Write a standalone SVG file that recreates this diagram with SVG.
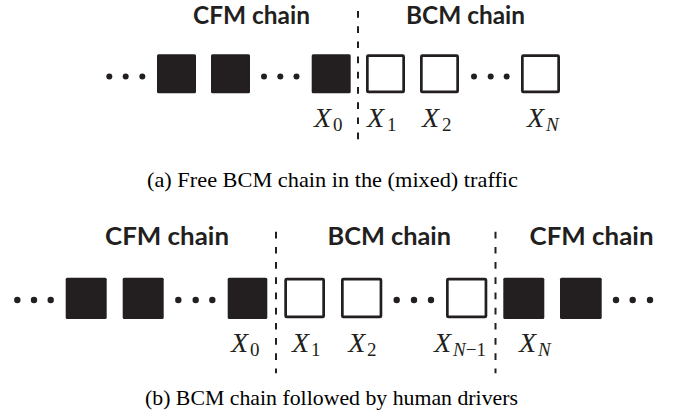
<svg xmlns="http://www.w3.org/2000/svg" width="675" height="417" viewBox="0 0 675 417">
<style>
.title{font-family:"Lato","Open Sans","Liberation Sans",sans-serif;font-weight:bold;font-size:24px;fill:#231f20}
.cap{font-family:"Liberation Serif","Times New Roman",serif;font-size:21px;fill:#000}
.x{font-family:"Liberation Serif","DejaVu Serif",serif;font-style:italic;font-size:28px;fill:#231f20}
.sub{font-size:19px;font-style:normal}
.subi{font-size:19px;font-style:italic}
.car{fill:#231f20}
.bcm{fill:#fff;stroke:#231f20;stroke-width:2.7}
.dot{fill:#231f20}
.div{stroke:#231f20;stroke-width:2;stroke-dasharray:6.7 8.5;fill:none}
</style>
<rect width="675" height="417" fill="#fff"/>
<g id="panel-a">
  <text class="title" x="193" y="23.5" textLength="117" lengthAdjust="spacingAndGlyphs">CFM chain</text>
  <text class="title" x="406" y="23.5" textLength="119" lengthAdjust="spacingAndGlyphs">BCM chain</text>
  <g id="a-connectors">
    <line class="div" x1="358" y1="11" x2="358" y2="147"/>
  </g>
  <g id="a-dots1"><circle class="dot" cx="109.3" cy="76.5" r="3"/><circle class="dot" cx="125.7" cy="76.5" r="3"/><circle class="dot" cx="142.3" cy="76.5" r="3"/></g>
  <g id="a-cfm1"><rect class="car" x="157" y="54.3" width="39" height="39" rx="1.5"/></g>
  <g id="a-cfm2"><rect class="car" x="211" y="54.3" width="39" height="39" rx="1.5"/></g>
  <g id="a-dots2"><circle class="dot" cx="264" cy="76.5" r="3"/><circle class="dot" cx="280.3" cy="76.5" r="3"/><circle class="dot" cx="296.5" cy="76.5" r="3"/></g>
  <g id="a-x0"><rect class="car" x="311.7" y="54.3" width="39" height="39" rx="1.5"/>
    <text class="x" x="314" y="127">X<tspan class="sub" x="333" y="131">0</tspan></text></g>
  <g id="a-x1"><rect class="bcm" x="367.35" y="55.65" width="36.3" height="36.3" rx="1"/>
    <text class="x" x="367" y="127">X<tspan class="sub" x="387" y="131">1</tspan></text></g>
  <g id="a-x2"><rect class="bcm" x="421.35" y="55.65" width="36.3" height="36.3" rx="1"/>
    <text class="x" x="422" y="127">X<tspan class="sub" x="442" y="131">2</tspan></text></g>
  <g id="a-dots3"><circle class="dot" cx="474" cy="76.5" r="3"/><circle class="dot" cx="490.7" cy="76.5" r="3"/><circle class="dot" cx="506.7" cy="76.5" r="3"/></g>
  <g id="a-xN"><rect class="bcm" x="522.35" y="55.65" width="36.3" height="36.3" rx="1"/>
    <text class="x" x="527" y="127">X<tspan class="subi" x="546" y="131">N</tspan></text></g>
  <text class="cap" x="147" y="186.5" textLength="371" lengthAdjust="spacingAndGlyphs">(a) Free BCM chain in the (mixed) traffic</text>
</g>
<g id="panel-b">
  <text class="title" x="105" y="245" textLength="124" lengthAdjust="spacingAndGlyphs">CFM chain</text>
  <text class="title" x="327.5" y="245" textLength="123.5" lengthAdjust="spacingAndGlyphs">BCM chain</text>
  <text class="title" x="529.5" y="245" textLength="124" lengthAdjust="spacingAndGlyphs">CFM chain</text>
  <g id="b-connectors">
    <line class="div" x1="276" y1="231.7" x2="276" y2="373.3"/>
    <line class="div" x1="495.5" y1="231.7" x2="495.5" y2="373.3"/>
  </g>
  <g id="b-dots1"><circle class="dot" cx="17.3" cy="300" r="3.2"/><circle class="dot" cx="34" cy="300" r="3.2"/><circle class="dot" cx="50.7" cy="300" r="3.2"/></g>
  <g id="b-cfm1"><rect class="car" x="65.7" y="277.7" width="41" height="41.3" rx="1.5"/></g>
  <g id="b-cfm2"><rect class="car" x="122.7" y="277.7" width="41" height="41.3" rx="1.5"/></g>
  <g id="b-dots2"><circle class="dot" cx="178.3" cy="300" r="3.2"/><circle class="dot" cx="195.7" cy="300" r="3.2"/><circle class="dot" cx="212.3" cy="300" r="3.2"/></g>
  <g id="b-x0"><rect class="car" x="227.7" y="277.7" width="39.6" height="41.3" rx="1.5"/>
    <text class="x" x="231" y="351.7">X<tspan class="sub" x="250" y="356">0</tspan></text></g>
  <g id="b-x1"><rect class="bcm" x="285.65" y="279.05" width="38" height="37.9" rx="1"/>
    <text class="x" x="292" y="351.7">X<tspan class="sub" x="311" y="356">1</tspan></text></g>
  <g id="b-x2"><rect class="bcm" x="342.35" y="279.05" width="38.6" height="37.9" rx="1"/>
    <text class="x" x="348.3" y="351.7">X<tspan class="sub" x="367" y="356">2</tspan></text></g>
  <g id="b-dots3"><circle class="dot" cx="396.7" cy="300" r="3.2"/><circle class="dot" cx="414" cy="300" r="3.2"/><circle class="dot" cx="431" cy="300" r="3.2"/></g>
  <g id="b-xN1"><rect class="bcm" x="447.35" y="279.05" width="38.6" height="37.9" rx="1"/>
    <text class="x" x="434" y="351.7">X<tspan class="subi" x="453" y="356">N</tspan><tspan class="sub" y="356">−1</tspan></text></g>
  <g id="b-xN"><rect class="car" x="503.3" y="277.7" width="41" height="41.3" rx="1.5"/>
    <text class="x" x="519" y="351.7">X<tspan class="subi" x="538" y="356">N</tspan></text></g>
  <g id="b-cfm3"><rect class="car" x="560" y="277.7" width="41.7" height="41.3" rx="1.5"/></g>
  <g id="b-dots4"><circle class="dot" cx="616" cy="300" r="3.2"/><circle class="dot" cx="632.7" cy="300" r="3.2"/><circle class="dot" cx="650" cy="300" r="3.2"/></g>
  <text class="cap" x="145" y="405" textLength="373" lengthAdjust="spacingAndGlyphs">(b) BCM chain followed by human drivers</text>
</g>
</svg>
